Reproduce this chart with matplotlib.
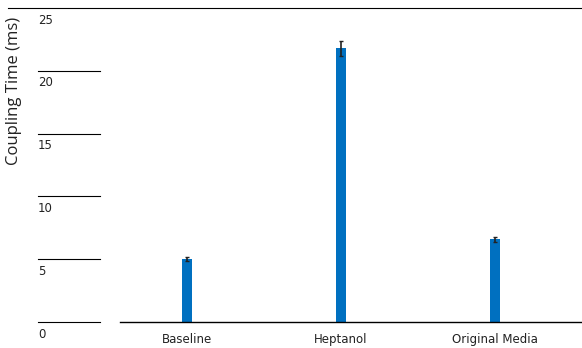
import matplotlib
matplotlib.use("Agg")
import matplotlib.pyplot as plt
import numpy as np

categories = ["Baseline", "Heptanol", "Original Media"]
values = [5.0, 21.8, 6.6]
errors = [0.15, 0.6, 0.2]
yticks = [0, 5, 10, 15, 20, 25]

W, H = 582, 348
fig = plt.figure(figsize=(W / 100, H / 100), dpi=100)

def fx(px):
    return px / W

def fy(py):
    return 1 - py / H

y0, y25 = 322, 8
# main axes
ax = fig.add_axes([fx(120), fy(y0), fx(582 - 120), (y0 - y25) / H])
x = np.arange(len(categories))
ax.bar(x, values, width=0.06, color="#0070C0", zorder=2)
ax.errorbar(x, values, yerr=errors, fmt="none", ecolor="#222222", elinewidth=1.2,
            capsize=1.5, capthick=1, zorder=3)
ax.set_xlim(-0.435, 2.565)
ax.set_ylim(0, 25)
for s in ["top", "right", "left"]:
    ax.spines[s].set_visible(False)
ax.spines["bottom"].set_color("black")
ax.spines["bottom"].set_linewidth(1.0)
ax.set_yticks([])
ax.set_xticks(x)
ax.set_xticklabels(categories, fontsize=8.5, color="#222222")
ax.tick_params(axis="x", length=0, pad=8)

# left pseudo axis
lax = fig.add_axes([fx(38), fy(y0), fx(100 - 38), (y0 - y25) / H])
lax.set_xlim(0, 1)
lax.set_ylim(0, 25)
lax.axis("off")
for t in yticks[:-1]:
    lax.axhline(t, color="black", lw=0.8, clip_on=False)
for t in yticks:
    lax.text(0.0, t - 0.45, str(t), ha="left", va="top", fontsize=8.5, color="#222222")

# top full-width line
fig.add_artist(plt.Line2D([fx(8), 1.0], [fy(y25), fy(y25)], color="black", lw=0.8))

fig.text(fx(14), fy(91), "Coupling Time (ms)", rotation=90, ha="center", va="center",
         fontsize=12, family="Open Sans", color="#222222")

fig.savefig("out.png", dpi=100)
